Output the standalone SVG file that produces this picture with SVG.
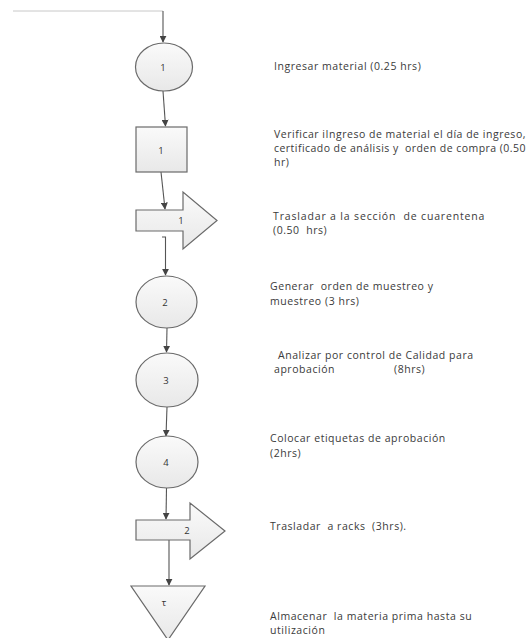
<svg xmlns="http://www.w3.org/2000/svg" width="532" height="638" viewBox="0 0 532 638">
  <defs>
    <linearGradient id="shade" x1="0" y1="0" x2="0" y2="1">
      <stop offset="0" stop-color="#fafafa"/>
      <stop offset="1" stop-color="#e8e8e8"/>
    </linearGradient>
    <marker id="tip" viewBox="0 0 10 10" refX="9" refY="5" markerWidth="7" markerHeight="7" markerUnits="userSpaceOnUse" orient="auto">
      <path d="M0,0 L10,5 L0,10 z" fill="#444"/>
    </marker>
  </defs>
  <style>
    .shape { fill: url(#shade); stroke: #6a6a6a; stroke-width: 1.2; }
    .num { font-family: "Open Sans", "Liberation Sans", sans-serif; font-size: 9.5px; fill: #333; text-anchor: middle; dominant-baseline: central; }
    .note { font-family: "Open Sans", "Liberation Sans", sans-serif; font-size: 10.5px; letter-spacing: 0.55px; fill: #3a3a3a; }
    .link { fill: none; stroke: #555; stroke-width: 1.1; marker-end: url(#tip); }
  </style>

  <rect width="532" height="638" fill="#ffffff"/>

  <!-- connectors -->
  <g id="connectors">
    <line x1="13" y1="11" x2="163" y2="11" stroke="#c8c8c8" stroke-width="1"/>
    <polyline class="link" points="163,11 163,42"/>
    <line class="link" x1="163" y1="91" x2="165.5" y2="126"/>
    <line class="link" x1="161" y1="172" x2="165" y2="209"/>
    <polyline class="link" points="162,237 165.5,237 165.5,275"/>
    <line class="link" x1="167" y1="328" x2="166.5" y2="352"/>
    <line class="link" x1="167" y1="407" x2="166" y2="436"/>
    <line class="link" x1="166.5" y1="488" x2="166" y2="519"/>
    <line class="link" x1="169" y1="540" x2="169" y2="585"/>
  </g>

  <!-- operation 1 -->
  <g id="op1">
    <ellipse class="shape" cx="164" cy="67" rx="28.5" ry="24"/>
    <text class="num" x="163" y="67">1</text>
  </g>

  <!-- inspection 1 -->
  <g id="insp1">
    <rect class="shape" x="136" y="127" width="51" height="45"/>
    <text class="num" x="161" y="150">1</text>
  </g>

  <!-- transport 1 -->
  <g id="trans1">
    <path class="shape" d="M136,210 H183 V192 L217,220.5 L183,249 V231 H136 Z"/>
    <text class="num" x="181" y="220">1</text>
  </g>

  <!-- operation 2 -->
  <g id="op2">
    <ellipse class="shape" cx="166.5" cy="302" rx="30.5" ry="26"/>
    <text class="num" x="165" y="302">2</text>
  </g>

  <!-- operation 3 -->
  <g id="op3">
    <ellipse class="shape" cx="167" cy="380" rx="31" ry="27"/>
    <text class="num" x="166" y="380">3</text>
  </g>

  <!-- operation 4 -->
  <g id="op4">
    <ellipse class="shape" cx="167" cy="462" rx="31" ry="26"/>
    <text class="num" x="166" y="462">4</text>
  </g>

  <!-- transport 2 -->
  <g id="trans2">
    <path class="shape" d="M136,520 H190 V503 L225,531 L190,559 V540 H136 Z"/>
    <text class="num" x="187" y="530">2</text>
  </g>

  <!-- storage -->
  <g id="store1">
    <path class="shape" d="M131,586 H205 L168,640 Z"/>
    <text class="num" x="164" y="602">τ</text>
  </g>

  <!-- step descriptions -->
  <g id="notes">
    <text class="note" x="274" y="70">Ingresar material (0.25 hrs)</text>
    <text class="note" x="274" y="138" textLength="252" lengthAdjust="spacing">Verificar iIngreso de material el día de ingreso,</text>
    <text class="note" x="274" y="152" xml:space="preserve" textLength="252" lengthAdjust="spacing">certificado de análisis y  orden de compra (0.50</text>
    <text class="note" x="274" y="166">hr)</text>
    <text class="note" x="273" y="220" xml:space="preserve" textLength="212" lengthAdjust="spacing">Trasladar a la sección  de cuarentena</text>
    <text class="note" x="273" y="234" xml:space="preserve">(0.50  hrs)</text>
    <text class="note" x="270" y="290" xml:space="preserve">Generar  orden de muestreo y</text>
    <text class="note" x="270" y="305">muestreo (3 hrs)</text>
    <text class="note" x="278" y="359">Analizar por control de Calidad para</text>
    <text class="note" x="274" y="373">aprobación</text>
    <text class="note" x="394" y="373">(8hrs)</text>
    <text class="note" x="270" y="442">Colocar etiquetas de aprobación</text>
    <text class="note" x="270" y="457">(2hrs)</text>
    <text class="note" x="270" y="530" xml:space="preserve">Trasladar  a racks  (3hrs).</text>
    <text class="note" x="270" y="620" xml:space="preserve">Almacenar  la materia prima hasta su</text>
    <text class="note" x="270" y="634">utilización</text>
  </g>
</svg>
